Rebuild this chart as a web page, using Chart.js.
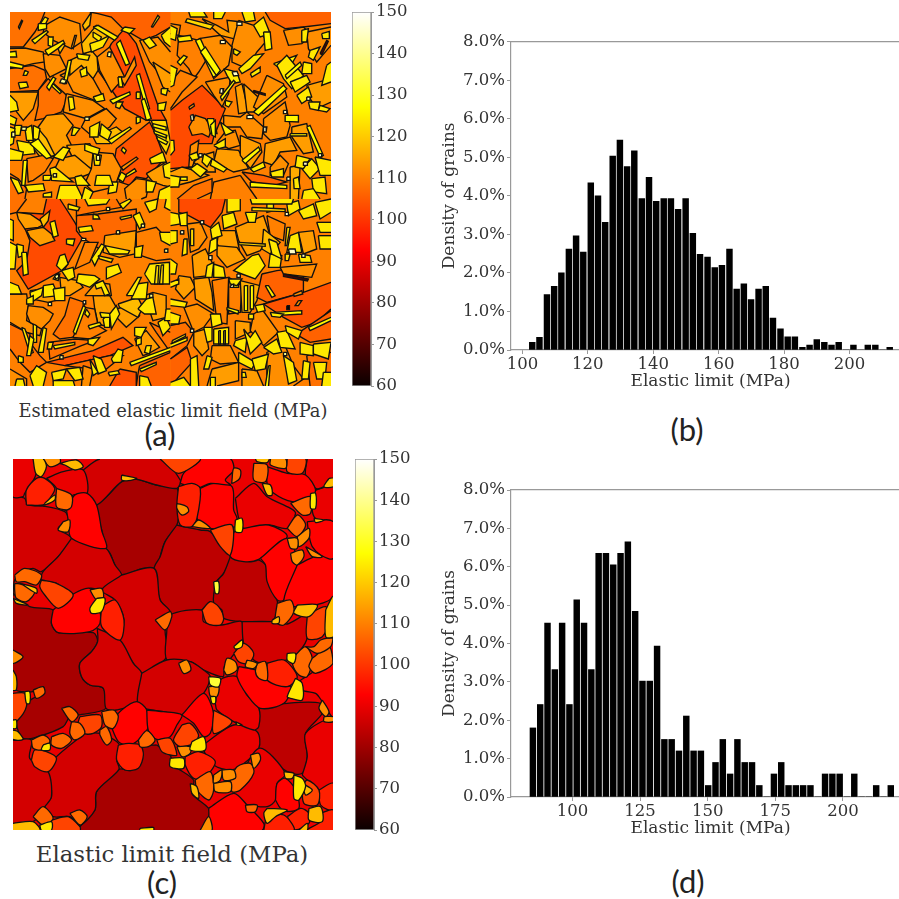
<!DOCTYPE html>
<html>
<head>
<meta charset="utf-8">
<title>Elastic limit fields</title>
<script src="https://cdn.jsdelivr.net/npm/chart.js@4"></script>
<style>
  body { margin: 0; background: #fff; width: 899px; height: 899px; position: relative; overflow: hidden; }
  canvas { position: absolute; filter: blur(0.45px); }
  .note { position: absolute; text-align: center; white-space: nowrap; color: #333; font-family: "DejaVu Serif", serif; transform: translate(-50%, -50%); }
  .tag { font-family: Lato, sans-serif; font-size: 31px; color: #222; }
</style>
</head>
<body>
<canvas id="fieldA" width="321" height="374" style="left:10px;top:12px"></canvas>
<canvas id="barA" width="80" height="400" style="left:340px;top:0px"></canvas>
<canvas id="histB" width="471" height="372" style="left:439px;top:20px"></canvas>
<canvas id="fieldC" width="320" height="371" style="left:13px;top:459px"></canvas>
<canvas id="barC" width="80" height="400" style="left:343px;top:447px"></canvas>
<canvas id="histD" width="471" height="369" style="left:439px;top:470px"></canvas>

<div class="note" style="left:173px;top:410px;font-size:17.9px">Estimated elastic limit field (MPa)</div>
<div class="note tag" style="left:160px;top:434px">(a)</div>
<div class="note tag" style="left:687px;top:429px">(b)</div>
<div class="note" style="left:172px;top:854px;font-size:22.8px">Elastic limit field (MPa)</div>
<div class="note tag" style="left:162px;top:882px">(c)</div>
<div class="note tag" style="left:688px;top:881px">(d)</div>

<script>
// histogram (b)
const binsB = [103.0,105.2,107.5,109.7,111.9,114.2,116.4,118.6,120.9,123.1,125.3,127.6,129.8,132.0,134.2,136.5,138.7,140.9,143.2,145.4,147.6,149.9,152.1,154.3,156.6,158.8,161.0,163.3,165.5,167.7,169.9,172.2,174.4,176.6,178.9,181.1,183.3,185.6,187.8,190.0,192.3,194.5,196.7,199.0,201.2,203.4,205.6,207.9,210.1,212.3];
const densityB = [0.20,0.33,1.44,1.65,2.00,2.62,2.96,2.54,4.34,4.00,3.31,5.03,5.45,4.76,5.17,3.93,4.48,3.86,3.93,3.93,3.65,3.93,3.03,2.48,2.41,2.14,2.20,2.62,1.58,1.72,1.31,1.58,1.65,0.83,0.55,0.34,0.34,0.07,0.13,0.27,0.20,0.13,0.20,0,0.13,0,0.13,0.13,0,0.07];
// histogram (d)
const binsD = [85.4,88.1,90.8,93.5,96.2,98.9,101.6,104.3,107.0,109.7,112.4,115.1,117.8,120.5,123.2,125.9,128.6,131.3,134.0,136.7,139.4,142.1,144.8,147.5,150.2,152.9,155.6,158.3,161.0,163.7,166.4,169.1,171.8,174.5,177.2,179.9,182.6,185.3,188.0,190.7,193.4,196.1,198.8,201.5,204.2,206.9,209.6,212.3,215.0,217.7];
const densityD = [1.80,2.41,4.53,3.32,4.53,2.41,5.14,4.53,3.32,6.35,6.35,6.05,6.35,6.65,4.84,3.02,3.02,3.93,1.50,1.50,1.20,2.11,1.20,1.20,0.30,0.90,1.50,0.60,1.50,0.90,0.90,0.30,0,0.60,0.90,0.30,0.30,0.30,0.30,0,0.60,0.60,0.60,0,0.60,0,0,0.30,0,0.30];

// colourbar ticks, MPa
const colorbarTicks = [60,70,80,90,100,110,120,130,140,150];

// grain field (c): each layer is one elastic limit (MPa) and its grain outlines as x,y,x,y...
const grainsC81 = [
  [290,165,330,130,365,95,410,88,470,105,530,115,537,170,530,225,495,275,480,320,475,352,420,358,365,375,345,345,330,310,318,295,305,240,292,190],
  [470,885,510,915,520,945,580,990,575,1030,625,1075,625,1100,600,1140,240,1140,285,1080,290,1025,357,958,395,960,430,890],
  [40,430,90,470,160,480,155,520,175,548,280,548,293,575,275,605,240,640,245,680,270,705,310,715,318,775,235,795,210,800,190,830,115,860,70,865,50,820,65,790,80,760,100,745,130,730,130,710,100,725,70,725,50,720,40,660]
];
const grainsC84 = [
  [530,225,600,240,630,245,690,320,670,370,645,400,640,460,630,455,605,480,540,490,512,495,510,485,480,450,462,355,480,320,495,275],
  [690,320,770,328,800,350,805,395,830,450,830,480,815,515,725,515,670,505,665,480,640,460,650,395,670,370],
  [778,775,860,760,960,760,965,790,915,850,920,920,905,970,860,965,775,895,760,840]
];
const grainsC87 = [
  [40,140,75,145,85,165,130,168,195,185,205,210,175,235,215,265,175,320,125,365,100,355,70,365,45,390,40,435],
  [215,265,318,295,345,345,365,378,305,418,270,415,220,435,170,400,125,390,130,365,175,320],
  [250,60,300,27,480,27,540,90,530,115,470,105,410,88,365,95,290,165,262,130,250,90],
  [365,375,462,355,480,450,510,485,495,540,500,620,425,670,400,640,360,570,372,510,345,450,305,420],
  [500,540,510,495,605,480,610,515,665,525,725,515,728,570,695,620,672,650,668,680,610,660,570,635,500,630],
  [725,515,815,515,860,522,920,495,918,570,880,620,850,632,790,640,760,630,730,580],
  [292,535,360,570,400,640,425,670,415,755,350,780,318,775,310,715,270,705,245,680,240,640,275,605,293,575],
  [255,850,300,850,360,885,350,930,357,958,290,1025,285,1080,240,1125,210,1100,160,1100,135,1070,155,1040,150,985,145,965,165,925],
  [425,670,500,630,570,635,610,660,630,680,610,730,545,795,490,785,435,775,412,755],
  [40,870,95,870,90,925,145,965,155,1040,135,1070,100,1115,40,1120]
];
const grainsC90 = [
  [40,27,100,27,108,75,75,130,70,140,40,140],
  [705,145,760,100,800,140,870,175,885,190,860,235,805,225,730,235,715,205],
  [615,880,700,825,770,845,775,895,725,945,690,960,640,945,610,900],
  [905,975,920,920,915,850,997,810,997,1000,955,1020,920,990],
  [700,1030,775,895,855,970,830,1000,825,1050,800,1070,740,1065,715,1055],
  [945,120,997,110,997,215,945,205,935,180],
  [920,27,997,27,997,85,970,110,945,115,915,75],
  [645,760,660,690,710,680,740,735,775,775,775,830,760,840,700,815,650,780],
  [140,85,190,65,250,60,262,130,220,135,215,165,195,180,170,115]
];
const grainsC93 = [
  [200,180,225,135,262,130,290,165,305,240,318,295,215,265,205,210],
  [600,115,640,100,695,110,700,180,710,205,705,230,660,235,630,235,590,205,595,150],
  [705,240,730,235,805,225,860,260,775,328,730,335,690,320,690,270],
  [800,50,860,70,915,75,945,120,925,145,875,155,820,130,800,100],
  [780,325,860,265,890,345,850,450,830,450,800,395,795,345],
  [890,345,945,320,997,325,997,440,945,465,880,470,850,450],
  [920,215,997,215,997,325,960,315,935,290,925,255],
  [160,480,215,435,270,415,295,460,300,520,270,545,175,548,155,520],
  [330,820,365,780,410,755,440,780,445,830,415,870,385,885,355,875],
  [440,780,490,785,545,795,530,825,510,860,470,868,445,842],
  [545,795,610,730,640,790,630,850,610,860,580,820],
  [715,650,765,660,800,690,870,710,850,760,780,775,740,735,710,680],
  [900,690,997,640,997,800,965,755,945,730,905,720],
  [625,1075,700,1030,740,1065,790,1120,785,1140,635,1140],
  [825,1050,830,1000,855,985,885,1020,895,1075,860,1085,840,1075],
  [540,100,590,115,630,100,690,105,675,90,700,60,690,27,600,27,550,70]
];
const grainsC97 = [
  [535,110,575,100,600,115,590,205,575,230,540,225,530,170],
  [305,470,345,450,372,510,360,570,305,530],
  [800,640,850,630,890,680,860,710,800,690],
  [860,1100,900,1075,925,1090,925,1120,885,1140],
  [790,1140,800,1105,850,1095,880,1140],
  [80,165,80,120,110,85,135,85,165,115,150,145,130,165],
  [355,885,385,880,420,885,430,915,415,955,375,960,350,930],
  [555,920,595,905,645,935,610,985,580,985,555,945],
  [955,1020,997,1000,997,1080,960,1065],
  [960,1090,997,1080,997,1140,920,1140,960,1115]
];
const grainsC102 = [
  [125,390,170,400,220,435,175,475,135,435,120,410],
  [240,800,300,795,305,830,280,850,250,850,235,820],
  [40,730,75,730,80,770,55,810,40,810],
  [95,930,105,900,140,905,170,925,145,965,105,950],
  [905,1010,920,990,955,1020,950,1065,910,1060],
  [480,27,535,70,600,27],
  [630,240,695,225,690,315,660,290],
  [605,480,630,455,655,470,670,505,660,525,620,520],
  [920,495,975,470,985,510,965,560,920,565],
  [700,610,730,580,760,610,745,640,715,635],
  [640,780,695,815,640,850],
  [545,825,570,820,595,855,580,880,540,890,520,870],
  [470,870,510,865,530,915,510,915,485,905],
  [155,1110,205,1100,240,1130,240,1140,155,1140],
  [860,27,915,27,905,70,860,65]
];
const grainsC107 = [
  [170,115,215,135,215,170,200,180,170,170],
  [415,870,440,842,465,870,445,890,420,890],
  [305,785,340,780,355,800,340,835,315,825],
  [300,840,320,830,335,870,320,885,300,855],
  [215,815,240,820,255,850,225,870,210,850],
  [185,775,210,770,235,795,215,815],
  [155,860,190,850,215,870,185,895,155,885],
  [95,870,130,855,150,870,145,885,125,900,100,895],
  [100,720,130,710,135,730,110,745],
  [695,90,700,55,720,60,718,85,695,100],
  [870,160,930,140,930,190,905,195],
  [860,235,890,195,915,225,890,260],
  [45,375,75,355,125,375,110,405,75,395,50,395],
  [45,400,75,405,105,425,80,455,50,445,45,420],
  [830,460,870,450,880,485,850,525,825,515],
  [770,640,795,635,800,690,775,685,765,665],
  [880,620,915,590,935,625,920,680,895,675,875,640],
  [935,625,985,590,997,640,945,670,925,650],
  [915,590,940,590,960,570,997,565,990,590,950,610],
  [690,990,710,950,750,940,760,970,720,1020,695,1025],
  [585,990,630,965,640,1020,625,1050,590,1020],
  [735,1065,770,1065,765,1085,740,1085],
  [100,1100,130,1070,160,1105,130,1125],
  [210,1090,240,1080,262,1100,240,1125],
  [760,40,800,45,795,95,760,90],
  [465,510,510,485,515,500,495,540]
];
const grainsC112 = [
  [535,640,560,630,572,660,550,670],
  [190,215,210,210,205,245,175,240],
  [530,160,560,170,565,185,545,195,530,175],
  [575,230,595,210,630,235],
  [870,310,905,300,910,320,890,345,875,335],
  [915,290,965,320,935,320],
  [890,260,925,235,925,265,895,290],
  [860,265,890,265,890,295,870,295],
  [270,420,305,415,310,445,290,450],
  [670,660,680,625,705,635,710,660,680,675],
  [740,630,770,640,760,655,735,650],
  [625,710,655,710,650,740,630,738],
  [40,600,70,620,40,640],
  [530,890,570,890,570,910,545,920],
  [640,975,665,960,660,990,640,1000],
  [665,960,700,960,705,985,670,990],
  [640,1000,690,995,690,1025,645,1025],
  [750,915,775,910,780,930,760,955],
  [965,750,985,785,975,800,955,775],
  [970,800,997,800,997,815,970,815],
  [600,1140,625,1100,635,1140],
  [810,27,855,27,855,55,810,45],
  [130,27,180,27,180,40,150,50]
];
const grainsC118 = [
  [365,75,410,85,385,92,365,90],
  [135,160,165,135,165,150,135,165],
  [100,27,130,27,140,50,125,80,108,70],
  [180,40,230,30,250,50,225,60,195,45],
  [785,100,810,105,815,135,800,135],
  [890,465,950,465,925,500,880,490],
  [975,480,997,440,997,560,975,560],
  [570,1000,590,1010,595,1045,575,1030],
  [40,840,55,845,70,868,40,868],
  [40,660,50,680,50,720,40,720],
  [40,445,85,465,50,460],
  [60,400,110,415,110,430,70,405],
  [905,1000,935,1020,915,1035],
  [800,1075,860,1080,825,1100,800,1120,790,1090],
  [925,1075,960,1070,965,1115,925,1110],
  [40,1120,100,1115,120,1140,40,1140],
  [985,85,997,85,997,110,970,110],
  [940,205,970,210,945,218],
  [815,510,835,500,835,520,815,520],
  [895,1140,920,1120,920,1140],
  [850,965,880,970,875,985,855,985],
  [765,27,805,27,800,38,770,35]
];
const grainsC124 = [
  [705,210,725,205,725,245,705,245],
  [930,130,945,130,945,175,930,175],
  [290,445,315,445,305,485,275,490,270,475],
  [700,590,725,570,725,590,705,597],
  [885,685,905,700,905,750,870,745,860,740],
  [860,610,885,610,880,640,860,630],
  [575,875,610,860,615,900,570,900],
  [510,925,550,925,550,955,510,950],
  [75,725,90,725,90,760,80,760],
  [40,810,50,810,50,835,40,835],
  [130,885,150,880,150,900,125,900],
  [630,740,645,740,645,760,635,760],
  [880,975,905,985,915,1010,895,1050,880,1045],
  [120,1125,155,1115,155,1140,125,1140],
  [420,1135,460,1132,460,1140,420,1140],
  [705,815,725,825,710,825]
];
const grainsC132 = [
  [640,395,655,395,655,430,645,430],
  [625,680,660,685,655,710,630,705]
];
const layersC = [[81,grainsC81],[84,grainsC84],[87,grainsC87],[90,grainsC90],[93,grainsC93],[97,grainsC97],[102,grainsC102],[107,grainsC107],[112,grainsC112],[118,grainsC118],[124,grainsC124],[132,grainsC132]];

// grain field (a), read tile by tile; every row is MPa then outline x,y,x,y... in paint order
const tileNW = [
  [108,0,0,105,0,95,25,75,60,40,105,0,105],
  [112,105,40,150,15,210,35,215,90,185,110,130,85,100,60],
  [106,240,0,483,0,483,45,440,70,400,85,340,50,305,15,265,5],
  [112,0,110,45,108,100,120,105,150,70,155,30,165,0,165],
  [112,100,125,150,130,170,170,120,195,105,170],
  [108,0,170,30,165,70,160,105,175,110,200,85,235,0,240],
  [108,85,235,115,200,160,240,175,255,155,300,100,320,75,325,85,280],
  [114,0,240,85,240,70,290,40,325,20,300,0,260],
  [103,305,95,345,50,380,95,445,280,470,325,410,325,345,290,310,240,265,175],
  [112,262,135,300,105,328,160,345,195,305,240,270,175],
  [112,345,195,375,135,380,160,345,220,330,195],
  [112,390,85,445,75,483,120,483,190,455,190,420,150],
  [114,430,150,483,185,483,240,460,225],
  [112,150,190,215,160,250,200,275,245,255,265,190,240,170,200],
  [116,180,145,245,115,262,135,265,175,250,200,215,160,180,190],
  [118,215,95,260,40,300,65,280,100,255,115,220,125],
  [112,170,245,250,265,285,290,230,320,160,300],
  [114,110,310,160,305,190,340,170,370,190,410,130,435,95,380,85,345],
  [118,85,350,110,380,135,430,95,440,55,390],
  [112,225,325,290,290,320,320,300,345,250,375,215,345],
  [118,250,375,320,345,345,365,300,395,260,395],
  [104,320,410,420,330,440,370,465,440,410,500,380,495,360,520,330,510,315,440],
  [114,170,400,240,395,255,420,245,470,190,440],
  [110,50,440,100,430,130,440,105,480,70,505,55,510],
  [114,150,440,195,430,255,480,215,495,170,500,130,480],
  [112,250,420,310,425,335,470,315,525,250,540,225,515,245,470],
  [112,380,500,420,505,410,555,395,561,350,561,345,530],
  [108,0,485,25,500,50,530,45,561,0,561],
  [114,410,485,470,450,483,480,483,525,460,520,430,510],
  [124,85,45,105,15,115,20,100,50],[126,85,35,110,35,110,50,85,55],[124,425,45,445,10,450,15,430,45],[120,25,45,35,25,38,27,28,50],
  [124,345,45,375,50,360,65,335,55],[118,218,40,245,0,240,40,225,55],[124,65,85,110,55,115,60,75,95],[124,115,75,130,75,128,105,115,100],
  [124,105,115,160,85,165,95,115,130],[120,145,110,160,95,165,100,150,125],[112,185,105,195,70,200,70,190,110],[124,200,125,240,130,235,145,205,140],
  [124,175,145,185,145,170,215,160,215],[124,210,175,230,165,232,190,215,195],[126,110,225,130,195,138,200,118,235],[126,130,215,155,240,150,245,125,222],
  [124,25,212,50,210,55,225,30,230],[124,45,175,55,180,50,190,40,190],[126,0,150,40,160,38,170,0,165],[126,0,120,18,118,20,135,0,135],
  [124,250,60,275,75,270,90,250,75],[124,240,95,270,85,300,70,280,105,245,120],[124,250,45,265,40,325,75,315,85],[126,320,95,332,85,360,155,348,160],
  [124,325,195,335,195,340,225,328,225],[126,300,265,360,240,362,248,310,275],[122,320,270,340,270,330,290,318,285],[124,250,255,280,245,285,265,260,270],
  [126,380,190,390,185,420,290,410,295],[126,395,265,405,260,425,320,410,325],[122,380,240,392,240,392,260,380,260],[124,445,275,470,270,465,295,445,295],
  [124,380,315,392,315,392,330,382,335],[124,455,230,475,230,470,250,455,245],[124,400,85,420,75,440,100,420,110],[124,455,70,483,45,483,105,465,90],
  [122,425,325,470,325,483,390,470,425,445,385],[126,430,335,470,345,470,355,430,345],[126,432,355,472,370,470,378,435,365],[126,440,372,475,390,470,398,445,385],
  [124,420,440,460,420,470,450,425,455],[124,130,435,160,405,180,410,160,445],[124,190,345,210,350,195,370,185,370],[124,240,345,270,330,265,375,240,375],
  [124,275,335,305,360,295,385,270,370],[124,225,395,270,410,265,430,225,415],[124,250,425,275,430,270,460,255,460],[124,295,385,360,345,365,350,305,395],
  [124,340,405,350,415,345,425,335,415],[112,335,465,380,435,385,440,340,475],[124,345,490,375,470,380,478,350,495],[124,15,340,35,340,30,370,10,370],
  [124,0,345,15,350,10,395,0,400],[124,45,350,65,340,70,385,50,385],[124,70,340,90,350,85,385,70,380],[124,20,385,70,395,75,425,30,430],
  [126,60,395,85,380,125,435,110,440],[124,0,410,40,420,35,445,0,445],[126,40,445,52,445,45,520,35,520],[124,0,495,25,505,40,540,25,545],
  [124,0,310,20,320,15,340,0,335],[124,0,250,20,270,25,295,0,300],[124,120,470,135,465,190,510,125,505],[124,100,490,125,490,120,505,100,505],
  [124,45,520,100,515,105,535,55,540],[124,100,545,125,540,125,555,100,555],[124,195,495,215,490,240,520,200,520],[124,150,520,200,520,220,561,140,561],
  [124,225,525,250,540,240,561,215,561],[124,300,510,325,510,320,540,295,545],[124,175,255,190,255,195,290,180,295],[124,260,490,300,490,310,520,255,520],
  [124,335,480,350,490,340,510,325,500],[124,450,535,483,520,483,561,445,561],[124,410,505,440,510,430,540,410,540],[124,460,460,483,450,483,500,465,495],
  [140,5,360,15,360,15,375,5,375],[140,130,485,140,485,140,495,130,495],[140,155,200,170,205,165,215,150,212],[140,35,345,50,345,48,355,35,355],
  [140,295,120,305,120,303,135,293,133],[140,225,315,240,315,238,325,225,325],[140,260,430,270,430,270,445,260,445]
];
const tileNE = [
  [106,0,0,483,0,483,35,400,45,345,50,300,25,285,0],
  [112,340,55,400,45,425,70,395,95,355,100],
  [114,95,20,140,40,175,60,170,25,215,30,235,55,210,85,150,70],
  [112,205,25,250,40,290,85,260,120,230,170,185,150,185,100],
  [112,85,80,150,70,185,105,175,160,130,200,110,140],
  [110,25,70,85,85,110,140,85,180,70,200,55,170,20,130],
  [112,0,35,30,40,25,70,0,65],
  [110,0,210,30,175,80,195,35,240,0,290],
  [103,0,295,35,265,95,220,165,290,130,375,125,395,80,395,60,465,0,470],
  [112,55,345,75,310,105,320,125,350,115,375,95,365,65,370],
  [112,60,400,85,385,80,430,65,465,55,465],
  [112,105,210,180,195,175,245,155,285,130,250],
  [114,195,225,215,215,235,300,205,305],
  [112,160,310,210,315,230,300,280,345,275,380,230,375,210,345,160,345],
  [112,165,360,195,355,210,400,175,410,140,390],
  [112,280,320,345,270,360,340,350,375,300,385,280,365],
  [114,220,215,280,270,250,300,230,300],
  [112,290,190,340,215,350,255,280,305,250,285],
  [114,410,220,483,200,483,270,440,290,420,260],
  [114,365,345,410,335,430,420,400,425,365,375],
  [114,285,395,360,375,380,415,330,420,310,460,280,450],
  [114,140,410,205,415,235,470,190,480,130,450],
  [114,210,370,270,395,275,420,240,470,210,430],
  [114,95,430,130,420,135,480,95,480,70,450],
  [114,0,480,35,465,90,480,115,490,60,510,0,525],
  [106,215,480,280,490,350,510,310,520,245,510],
  [110,210,490,260,561,120,561,130,510],
  [108,20,561,70,520,125,500,125,540,80,561],
  [112,300,465,330,430,355,455,340,490,300,490],
  [116,360,465,390,460,385,561,360,561],
  [112,410,60,483,45,483,100,440,150,415,110],
  [124,55,0,100,0,110,15,60,15],[122,50,20,130,40,120,52,45,30],[124,0,40,20,50,15,85,0,80],[124,20,75,60,70,65,85,25,90],
  [126,75,85,90,80,140,190,128,195],[126,90,120,105,105,150,175,138,190],[124,130,0,165,0,155,20,130,20],[124,215,0,250,0,255,25,225,30],
  [124,250,40,280,15,300,65,270,75],[126,280,60,300,60,305,110,285,115],[124,190,110,210,120,200,130,190,125],[124,205,170,250,130,280,125,240,170,215,185],
  [124,240,185,270,165,270,180,245,195],[124,160,170,200,180,210,210,185,215,170,190],[126,150,255,190,205,195,210,155,265],[124,165,265,185,270,175,285,165,280],
  [126,250,300,340,220,350,230,265,310],[126,310,155,380,130,350,180,330,170],[124,320,160,350,130,400,190,365,230,340,200],[126,345,190,390,150,395,160,350,200],
  [124,360,210,410,190,420,210,375,240],[124,380,250,415,225,425,255,395,275],[124,400,150,425,155,425,185,395,185],[124,395,55,415,50,410,90,395,90],
  [124,420,115,450,105,430,145,415,135],[124,455,65,478,58,478,80,458,80],[124,415,270,450,270,445,295,420,290],[126,345,310,385,310,385,330,345,328],
  [126,360,365,410,365,410,372,360,372],[126,410,345,420,340,460,430,450,435],[124,150,330,190,360,165,370],[124,130,400,165,380,165,405,145,410],
  [126,215,445,265,405,270,415,225,455],[124,240,470,280,450,285,465,250,480],[124,100,425,125,440,110,465,95,450],[124,125,440,170,470,160,480,120,460],
  [124,300,480,340,470,340,495,305,495],[124,0,385,10,385,12,415,0,430],[124,0,490,30,495,25,525,0,525],[124,60,470,80,455,110,475,90,495],
  [126,30,495,50,495,50,505,30,505],[124,55,430,80,420,85,440,65,445],[124,110,320,130,320,140,365,120,365],[126,120,340,135,325,135,375,125,370],
  [126,240,510,350,520,350,530,240,525],[124,370,500,385,495,390,530,372,530],[124,395,470,425,440,450,470,420,500],[124,425,500,465,495,470,545,430,540],
  [124,380,430,420,440,400,470,375,465],[124,435,435,483,445,483,490,450,490],[124,400,535,430,530,450,561,395,561],[124,470,160,483,150,483,210,455,220],
  [112,55,285,70,275,72,282,58,292],[124,450,280,480,290,470,300,445,295],[124,0,160,20,170,10,220,0,225],[124,20,150,40,130,50,135,30,160],
  [145,185,180,200,178,205,190,190,192],[145,150,230,160,230,158,245,148,243],[145,60,310,68,308,70,325,62,325],[145,280,345,290,345,288,360,280,360],
  [145,340,295,350,295,350,305,340,305],[145,410,255,420,255,420,265,410,265],[145,230,310,248,310,248,320,230,320],[145,85,425,95,425,95,435,85,435],
  [145,445,425,455,425,455,435,445,435],[145,400,450,412,450,412,460,400,460],[145,350,495,360,495,360,505,350,505],[145,200,30,215,30,215,40,200,40],
  [145,150,85,165,85,165,95,150,95],[70,450,125,470,85,475,88,456,128],[70,250,235,285,245,285,250,250,240]
];
const tileSW = [
  [103,25,40,100,45,110,0,150,0,195,70,220,115,165,210,55,270,20,215,50,185,60,125],
  [114,20,40,60,45,105,75,85,85,45,90,25,60],
  [114,50,95,100,85,125,105,135,125,90,140,60,115],
  [108,0,0,50,0,20,40,0,45],
  [118,90,60,120,35,115,65,100,85],
  [124,120,70,135,65,145,110,130,115],
  [124,170,120,195,120,190,140,170,135],
  [107,200,50,265,45,380,30,380,130,270,150,215,115,200,95],
  [124,205,85,245,80,250,95,210,100],
  [124,250,45,265,50,270,60,250,60],
  [114,285,110,380,95,375,165,330,175,280,160],
  [110,225,130,265,130,240,190,195,210],
  [110,380,100,440,85,483,130,483,180,440,185,410,175,380,165],
  [108,200,0,320,0,335,25,250,40,200,50],
  [112,0,285,50,285,55,320,50,365,95,390,90,410,50,400,0,370],
  [112,55,320,100,325,130,345,120,365,95,390,60,370,50,345],
  [114,60,275,100,270,150,270,155,300,115,310,65,300],
  [114,150,235,205,245,220,265,180,290,155,290],
  [108,180,295,225,310,205,410,185,415,150,420,130,405,165,350],
  [108,0,375,60,405,60,430,90,470,110,490,60,520,30,490,0,450],
  [114,250,290,300,290,320,325,300,385,265,375,255,330],
  [114,225,290,260,250,300,255,305,290,250,290],
  [110,225,325,255,330,265,380,290,395,240,420,190,415],
  [114,320,330,385,310,390,350,350,385,320,355],
  [118,325,315,385,295,400,325,385,355,330,325],
  [114,405,290,430,280,470,290,470,355,430,365],
  [108,420,370,483,400,483,460,440,400],
  [114,375,420,410,395,450,445,415,465,400,470],
  [108,115,430,195,420,255,425,215,440,120,480],
  [104,110,490,250,455,340,415,370,440,300,470,165,500],
  [108,165,500,300,470,340,470,290,510,250,510,205,505],
  [106,390,500,483,460,483,561,380,561,385,525],
  [112,0,510,50,540,50,561,0,561],
  [112,220,500,250,510,240,561,215,561],
  [104,330,510,380,520,380,561,300,561],
  [124,245,180,275,135,285,140,255,200],[124,285,140,360,155,355,165,300,165],[124,370,50,390,40,405,75,390,90],[124,405,10,445,0,440,30,420,40],
  [124,470,0,483,0,483,35,465,25],[124,450,100,483,100,483,140,455,125],[124,375,145,400,140,395,175,375,175],[124,175,15,210,25,205,35,175,30],
  [124,225,0,300,0,290,15,235,20],[124,330,15,360,0,365,5,340,30],[122,330,55,365,48,365,55,335,62],[124,255,255,280,245,300,285,285,290,275,265,260,270],
  [124,205,225,255,230,270,240,240,265,200,250],[124,150,170,165,165,175,195,155,215,140,200],[124,155,215,190,205,195,235,175,245],[124,140,225,150,225,145,245,130,240],
  [124,290,205,325,195,335,220,290,240],[122,265,170,310,180,305,190,270,180],[124,100,260,130,255,145,290,100,295],[124,60,280,100,265,95,290,65,310],
  [124,130,270,165,265,165,305,135,305],[124,230,330,240,345,235,355,225,345],[126,190,400,220,320,228,325,198,405],[124,235,380,270,370,275,378,240,390],
  [124,280,360,300,345,300,385,285,385],[124,270,340,320,345,310,355,275,355],[124,300,345,320,320,330,345,305,390],[124,385,330,410,300,430,295,440,345,405,345],
  [124,380,255,415,250,410,300,365,300],[124,350,290,385,235,395,235,370,290],[124,405,225,420,195,480,190,480,255,425,255],[122,440,200,448,200,445,255,435,255],
  [122,455,198,462,198,460,255,450,255],[124,445,370,470,355,483,385,460,410],[124,470,330,483,330,483,365,465,365],[124,375,385,410,385,395,415,375,410],
  [124,410,440,425,440,420,465,405,460],[124,50,300,70,290,70,315,50,315],[124,0,250,25,260,35,285,0,285],[124,0,130,20,140,15,210,0,210],
  [124,20,135,40,140,40,170,25,175],[124,35,160,50,160,55,225,40,230],[124,0,60,10,65,10,125,0,120],[124,70,375,80,380,80,430,70,430],
  [124,100,385,110,390,100,460,85,460],[124,35,385,45,390,70,460,60,465],[124,60,410,72,420,62,470,50,470],[122,115,430,130,430,125,450,112,450],
  [124,130,440,195,430,195,437,135,450],[124,235,420,270,415,250,440,235,435],[124,305,480,325,450,340,455,335,490,310,490],[124,380,420,395,415,395,435,380,440],
  [126,360,490,483,445,483,455,365,500],[126,390,510,440,490,440,497,395,518],[124,390,530,415,535,425,561,390,561],[124,60,530,80,500,110,520,100,561,70,561],
  [124,125,520,170,510,160,540,130,545],[124,170,510,210,505,220,540,195,545],[124,130,545,190,545,195,561,130,561],[124,250,470,275,480,290,515,265,525],
  [124,240,480,265,520,250,530],[124,295,520,325,515,330,525,300,530],[124,25,470,40,475,40,490,25,490],[124,20,540,40,540,45,561,15,561],
  [140,135,230,145,225,147,235,137,240],[145,220,305,228,305,228,315,220,315],[140,290,25,300,25,300,35,290,35],[140,395,75,405,75,405,85,395,85],
  [140,465,150,475,150,475,160,465,160],[140,115,310,125,310,125,320,115,320],[140,420,285,430,285,430,295,420,295],[140,150,470,160,470,160,480,150,480],
  [140,215,118,228,118,228,125,215,125],[140,320,95,330,95,330,105,320,105]
];
const tileSE = [
  [103,25,0,165,0,155,40,120,85,55,50,25,40],
  [112,50,75,90,70,110,115,85,150,60,160,55,115],
  [114,145,95,195,95,210,165,160,160,140,135],
  [114,195,85,280,50,300,110,270,155,230,170,205,125],
  [110,290,50,345,75,340,125,300,110],
  [118,280,90,330,130,300,165,275,150],
  [114,140,140,200,145,225,180,170,205,140,170],
  [114,385,100,430,95,440,150,400,165],
  [114,65,170,105,150,130,200,115,230,70,235],
  [114,25,230,60,235,75,265,40,300,15,270],
  [114,70,240,115,235,125,280,130,335,75,300],
  [112,40,325,80,315,130,345,100,385,70,400],
  [110,125,245,175,235,170,375,140,370,130,290],
  [110,175,235,215,260,210,340,175,345],
  [116,210,245,270,260,260,305,240,340,215,340],
  [106,275,225,320,215,400,205,400,280,290,310,260,295],
  [112,330,205,440,195,425,235,340,225],
  [104,280,315,400,280,483,250,483,330,440,370,395,385,340,355],
  [106,395,395,483,335,483,420,420,430,385,410],
  [112,250,345,275,330,325,400,280,440,240,395],
  [114,195,365,240,370,240,400,195,420],
  [108,0,380,45,370,70,400,50,440,0,480],
  [106,0,480,50,445,65,490,10,550,0,555],
  [114,70,400,105,390,115,450,95,470,70,440],
  [112,125,440,180,440,205,490,150,495,120,480],
  [114,125,510,205,490,205,545,140,561,110,561],
  [114,215,510,260,515,280,561,215,561],
  [112,335,440,345,440,370,500,400,540,370,561,290,561,290,460],
  [108,410,470,483,460,483,561,420,561],
  [124,0,40,25,45,30,75,0,80],[124,0,95,20,95,20,130,0,135],[124,25,45,50,40,50,80,30,80],[124,225,40,260,40,255,70,235,70],
  [124,155,50,190,40,200,75,160,90],[124,120,90,145,70,155,110,125,120],[124,120,125,140,115,140,150,115,165],[124,350,15,385,5,390,30,355,50],
  [124,385,35,430,15,440,50,400,60],[124,435,10,483,0,483,40,450,60],[124,440,70,483,70,483,100,450,100],[124,445,110,483,110,483,150,450,150],
  [124,360,110,385,100,395,160,350,160],[124,385,165,420,170,425,190,390,190],[124,300,165,335,170,330,205,295,205],[124,245,170,265,165,285,200,255,240,215,225,190,215],
  [124,130,195,160,205,165,235,130,235],[124,110,200,130,190,125,235,105,235],[124,40,120,50,120,50,165,35,170],[124,0,180,20,195,15,225,0,225],
  [124,0,300,50,310,45,325,0,320],[124,0,250,25,240,25,255,0,265],[124,0,340,30,350,25,375,0,375],[124,185,250,205,250,205,265,185,265],
  [126,222,260,232,260,232,335,222,335],[126,240,260,250,260,250,330,240,330],[124,285,260,295,260,315,290,305,295],[126,170,325,205,335,203,345,170,332],
  [126,310,340,395,335,395,345,315,350],[124,235,345,250,345,250,360,235,360],[124,255,320,280,315,285,335,262,340],[124,120,345,150,345,155,375,125,385],
  [124,0,435,50,415,50,425,0,445],[124,130,390,175,385,175,435,130,435],[122,145,395,150,395,150,435,145,435],[122,160,395,165,395,165,435,160,435],
  [124,100,385,125,385,125,425,110,430],[124,195,425,230,415,225,460,190,440],[124,320,400,350,395,375,450,330,445],[124,280,445,320,420,335,460,310,465],
  [124,220,390,240,415,255,395,275,430,240,465],[124,205,460,255,490,245,510,205,490],[124,245,480,295,465,285,510,255,515],[124,110,470,125,475,115,510,100,510],
  [124,60,480,80,470,85,561,60,561],[124,0,550,40,535,60,561,0,561],[124,345,380,395,395,385,420,350,400],[124,390,430,430,440,430,470,390,465],
  [124,430,435,483,430,475,480,430,465],[124,400,485,420,490,415,540,395,540],[124,430,490,470,490,465,540,440,540],[124,340,470,370,490,380,545,355,555],
  [124,120,535,135,535,135,561,120,561],[124,215,520,225,520,228,535,215,535],[124,460,520,483,520,483,561,455,561],[126,415,385,483,355,483,365,420,395],
  [126,295,500,300,500,295,561,285,561],[124,295,120,320,130,335,180,305,165],[124,175,240,215,240,200,260,180,255],[122,5,425,45,405,45,412,5,432],
  [122,205,130,285,135,285,142,205,137],[122,60,90,70,90,70,140,60,140],[122,345,165,360,165,355,185,345,185],[122,350,85,360,85,350,140,345,140],
  [124,290,0,310,0,310,35,290,40],[124,170,0,210,0,210,35,170,40],[124,240,0,370,0,365,15,245,15],[122,245,25,345,30,345,38,245,35],
  [70,340,225,415,240,412,246,340,232],[112,370,285,395,275,398,285,372,292],[60,350,320,358,320,358,332,350,332],[112,385,305,395,305,385,320,375,320],
  [124,300,340,340,345,330,355,305,352],[145,355,150,375,150,378,165,358,165],[145,345,40,355,40,355,50,345,50],[145,115,170,125,170,125,182,115,182],
  [145,90,65,100,65,100,75,90,75],[145,30,95,40,95,40,105,30,105],[145,200,225,210,225,210,235,200,235],[145,395,165,405,165,405,175,395,175],
  [145,60,390,70,390,70,400,60,400],[145,180,260,190,255,190,265,180,265],[140,340,460,350,460,350,470,340,470]
];
const tilesA = [[0,0,tileNW],[483,0,tileNE],[0,561,tileSW],[483,561,tileSE]];
// lines of the map where an outline is only a cut, not a grain boundary
const cutsAX = [0,483,966], cutsAY = [0,561,1122];
const cutsCX = [40,997], cutsCY = [27,1140];

// matplotlib "hot" stops, value position in 0..1 then rgb
const hotStops = [[0,10,0,0],[0.365,255,0,0],[0.746,255,255,0],[1,255,255,255]];

function hotColor(mpa) {
    const t = Math.min(1, Math.max(0, (mpa - 60) / 90));
    for (let i = 1; i < hotStops.length; i++) {
        const a = hotStops[i - 1], b = hotStops[i];
        if (t <= b[0]) {
            const f = (t - a[0]) / (b[0] - a[0]);
            return `rgb(${Math.round(a[1] + f * (b[1] - a[1]))},${Math.round(a[2] + f * (b[2] - a[2]))},${Math.round(a[3] + f * (b[3] - a[3]))})`;
        }
    }
    return 'rgb(255,255,255)';
}

const serif = 'DejaVu Serif';
const inkColor = '#333';
const spineColor = '#999';

// Draws a grain map. Each grain is two lines: a filled one, then its boundary without the cut edges
function drawField(id, grains, bgValue, xRange, yRange, cutsX, cutsY, lineWidth, tension) {
    const onCut = ctx => (ctx.p0.parsed.x === ctx.p1.parsed.x && cutsX.includes(ctx.p0.parsed.x))
        || (ctx.p0.parsed.y === ctx.p1.parsed.y && cutsY.includes(ctx.p0.parsed.y));
    const datasets = grains.flatMap(grain => {
        const closed = grain.points.concat([grain.points[0]]);
        return [
            { data: closed, showLine: true, fill: 'shape', tension: tension, backgroundColor: hotColor(grain.mpa),
              borderColor: 'rgba(0,0,0,0)', borderWidth: 1, pointRadius: 0 },
            { data: closed, showLine: true, fill: false, tension: tension, borderColor: '#111', borderWidth: lineWidth, pointRadius: 0,
              segment: { borderColor: ctx => onCut(ctx) ? 'rgba(0,0,0,0)' : undefined } }
        ];
    });
    datasets.reverse(); //chart.js paints the first dataset last
    new Chart(document.getElementById(id), {
        type: 'scatter',
        data: { datasets: datasets },
        options: {
            responsive: false, animation: false, devicePixelRatio: 1,
            layout: { padding: 0 },
            plugins: { legend: { display: false }, tooltip: { enabled: false } },
            scales: {
                x: { display: false, min: xRange[0], max: xRange[1] },
                y: { display: false, min: yRange[0], max: yRange[1], reverse: true }
            }
        },
        plugins: [{
            id: 'fieldBackground',
            beforeDraw(chart) {
                const a = chart.chartArea;
                chart.ctx.fillStyle = hotColor(bgValue);
                chart.ctx.fillRect(a.left, a.top, a.width, a.height);
            }
        }]
    });
}

function outlineToPoints(outline, dx, dy) {
    const points = [];
    for (let i = 0; i < outline.length; i += 2) points.push({ x: outline[i] + dx, y: outline[i + 1] + dy });
    return points;
}

// Draws the vertical colourbar as one floating bar with a hot gradient
function drawColorbar(id, padTop, padBottom) {
    new Chart(document.getElementById(id), {
        type: 'bar',
        data: {
            labels: ['MPa'],
            datasets: [{
                data: [[colorbarTicks[0], colorbarTicks[colorbarTicks.length - 1]]],
                barPercentage: 1, categoryPercentage: 1,
                borderColor: spineColor, borderWidth: 1, borderSkipped: false,
                backgroundColor(ctx) {
                    const chart = ctx.chart;
                    if (!chart.chartArea) return '#000';
                    const y = chart.scales.y;
                    const g = chart.ctx.createLinearGradient(0, y.getPixelForValue(60), 0, y.getPixelForValue(150));
                    hotStops.forEach(s => g.addColorStop(s[0], `rgb(${s[1]},${s[2]},${s[3]})`));
                    return g;
                }
            }]
        },
        options: {
            responsive: false, animation: false, devicePixelRatio: 1,
            layout: { padding: { left: 12, top: padTop, bottom: padBottom } },
            plugins: { legend: { display: false }, tooltip: { enabled: false } },
            scales: {
                x: { display: false },
                y: {
                    position: 'right', min: 60, max: 150,
                    afterBuildTicks(axis) { axis.ticks = colorbarTicks.map(v => ({ value: v })); },
                    afterFit(axis) { axis.width = 49; },
                    grid: { display: true, drawOnChartArea: false, tickLength: 3, color: spineColor },
                    border: { color: spineColor },
                    ticks: { color: inkColor, padding: 2, font: { family: serif, size: 16.5 } }
                }
            }
        }
    });
}

// Draws one histogram of grain density
function drawHistogram(id, bins, density, xMin, xMax, xStep, padTop, axisHeight) {
    new Chart(document.getElementById(id), {
        type: 'bar',
        data: {
            datasets: [{
                data: bins.map((b, i) => ({ x: b, y: density[i] })),
                backgroundColor: '#000', barThickness: 5.8, borderWidth: 0
            }]
        },
        options: {
            responsive: false, animation: false, devicePixelRatio: 1,
            layout: { padding: { top: padTop, right: 0, left: 0, bottom: 0 } },
            plugins: { legend: { display: false }, tooltip: { enabled: false } },
            scales: {
                x: {
                    type: 'linear', min: xMin, max: xMax, offset: false,
                    afterFit(axis) { axis.height = axisHeight; },
                    grid: { display: true, offset: false, drawOnChartArea: false, tickLength: 4, color: spineColor },
                    border: { color: spineColor, width: 1.2 },
                    ticks: { stepSize: xStep, includeBounds: false, autoSkip: false, maxRotation: 0, padding: 1, color: inkColor, font: { family: serif, size: 16.5 } },
                    title: { display: true, text: 'Elastic limit (MPa)', color: inkColor, padding: 0, font: { family: serif, size: 17 } }
                },
                xTop: {
                    axis: 'x', type: 'linear', position: 'top', min: xMin, max: xMax,
                    afterFit(axis) { axis.height = 0; },
                    grid: { display: false },
                    border: { color: spineColor, width: 1.2 },
                    ticks: { display: false }
                },
                y: {
                    min: 0, max: 8,
                    afterFit(axis) { axis.width = 72; },
                    grid: { display: true, drawOnChartArea: false, tickLength: 4, color: spineColor },
                    border: { color: spineColor, width: 1.2 },
                    ticks: { stepSize: 1, padding: 2, color: inkColor, font: { family: serif, size: 16.5 }, callback: v => v.toFixed(1) + '%' },
                    title: { display: true, text: 'Density of grains', color: inkColor, padding: 0, font: { family: serif, size: 17 } }
                }
            }
        }
    });
}

document.addEventListener('DOMContentLoaded', function() {
    const grainsA = tilesA.flatMap(([dx, dy, rows]) => rows.map(row => ({ mpa: row[0], points: outlineToPoints(row.slice(1), dx, dy) })));
    const grainsC = layersC.flatMap(([mpa, outlines]) => outlines.map(o => ({ mpa: mpa, points: outlineToPoints(o, 0, 0) })));

    drawField('fieldA', grainsA, 110, [0, 966], [0, 1122], cutsAX, cutsAY, 1.35, 0);
    drawColorbar('barA', 12, 14);
    drawHistogram('histB', binsB, densityB, 96.5, 218.5, 20, 21.7, 42);
    drawField('fieldC', grainsC, 90, [40, 997], [27, 1140], cutsCX, cutsCY, 1.3, 0.3);
    drawColorbar('barC', 12, 17);
    drawHistogram('histD', binsD, densityD, 77.3, 224.8, 25, 20, 42);
});
</script>
</body>
</html>
